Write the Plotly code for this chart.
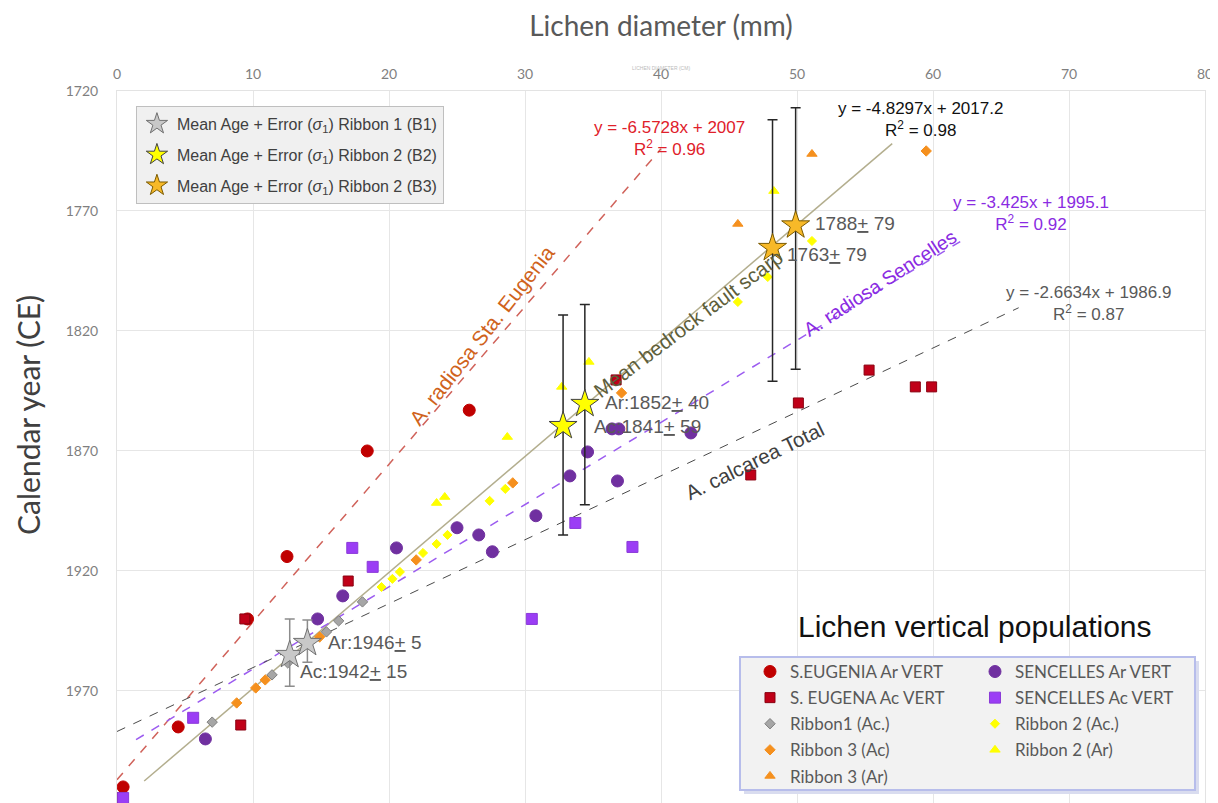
import plotly.graph_objects as go

# ---------------- data ----------------
se_ar_x = [0.45, 4.5, 9.6, 12.5, 18.4, 25.9]
se_ar_y = [2010, 1985, 1940, 1914, 1870, 1853]

sc_ar_x = [6.5, 14.75, 16.6, 20.55, 25.0, 26.6, 27.6, 30.8, 33.3, 34.6, 36.4, 36.9, 36.8, 42.2]
sc_ar_y = [1990, 1940, 1930.4, 1910.4, 1902, 1905, 1912, 1897, 1880.4, 1870.4, 1860.8, 1860.8, 1882.5, 1862.5]

se_ac_x = [0.0, 9.1, 9.4, 17.0, 36.7, 46.6, 50.1, 55.3, 58.7, 59.9]
se_ac_y = [2014.5, 1984.2, 1940, 1924.2, 1840.4, 1880, 1850, 1836.3, 1843.3, 1843.3]

sc_ac_x = [0.45, 5.6, 17.3, 18.8, 30.5, 33.7, 37.9]
sc_ac_y = [2014.6, 1981.2, 1910.4, 1918.3, 1940, 1900, 1910]

r1_ac_x = [7.0, 11.4, 12.55, 15.4, 16.3, 18.05]
r1_ac_y = [1983, 1963.3, 1958.3, 1945.4, 1940.8, 1932.9]

r2_ac_x = [19.45, 20.25, 20.8, 22.5, 23.5, 24.3, 27.4, 28.55, 45.65, 47.85, 51.1]
r2_ac_y = [1926.7, 1923.3, 1920.4, 1912.5, 1908.75, 1905, 1890.8, 1885.8, 1807.9, 1797.5, 1782.5]

r3_ac_x = [8.8, 10.2, 10.9, 14.9, 22.0, 29.1, 37.1, 59.5]
r3_ac_y = [1975, 1968.75, 1965.4, 1947.5, 1915.4, 1883.3, 1845.8, 1745]

r2_ar_x = [23.5, 24.1, 28.7, 32.7, 34.7, 48.3]
r2_ar_y = [1891.7, 1889.2, 1864.2, 1843.3, 1832.9, 1761.7]

r3_ar_x = [45.65, 51.1]
r3_ar_y = [1775.4, 1746.25]

# mean ages with errors (stars)
b1_x = [12.7, 14.0]; b1_y = [1955, 1950]; b1_plus = [13, 8]; b1_minus = [15, 9.6]
b2_x = [32.8, 34.4]; b2_y = [1859.6, 1850.4]; b2_plus = [45.4, 42]; b2_minus = [46.3, 41.4]
b3_x = [48.2, 49.9]; b3_y = [1785.4, 1776]; b3_plus = [55.6, 60]; b3_minus = [53.4, 49]

# trend lines: slope, intercept, x-extent
trend_slope = [-6.5728, -4.8297, -3.425, -2.6634]
trend_icpt = [2007, 2017.2, 1995.1, 1986.9]
trend_x0 = [0, 2.0, 1.4, 0]
trend_x1 = [40, 57, 62.3, 66.3]
trend_r2 = [0.96, 0.98, 0.92, 0.87]

x_ticks = [0, 10, 20, 30, 40, 50, 60, 70, 80]
y_ticks = [1720, 1770, 1820, 1870, 1920, 1970]

# ---------------- figure ----------------
fig = go.Figure()

line_styles = [
    dict(color="#D0625A", width=1.5, dash="dash"),
    dict(color="#B3AE8E", width=1.5),
    dict(color="#9C5CF0", width=1.5, dash="dash"),
    dict(color="#4A4A4A", width=1, dash="dash"),
]
for s, b, a, z, ls in zip(trend_slope, trend_icpt, trend_x0, trend_x1, line_styles):
    fig.add_trace(go.Scatter(x=[a, z], y=[s * a + b, s * z + b], mode="lines",
                             line=ls, showlegend=False, hoverinfo="skip"))

pts = [
    ("S.EUGENIA Ar VERT", se_ar_x, se_ar_y, "circle", 12, "#C00000", "#C00000", "legend2"),
    ("S. EUGENA Ac VERT", se_ac_x, se_ac_y, "square", 10, "#C00018", "#8A0010", "legend2"),
    ("Ribbon1 (Ac.)", r1_ac_x, r1_ac_y, "diamond", 8, "#A6A6A6", "#7F7F7F", "legend2"),
    ("Ribbon 3 (Ac)", r3_ac_x, r3_ac_y, "diamond", 8, "#F5901E", "#F5901E", "legend2"),
    ("Ribbon 3 (Ar)", r3_ar_x, r3_ar_y, "triangle-up", 9, "#F5901E", "#F5901E", "legend2"),
    ("SENCELLES Ar VERT", sc_ar_x, sc_ar_y, "circle", 12, "#7030A0", "#7030A0", "legend3"),
    ("SENCELLES Ac VERT", sc_ac_x, sc_ac_y, "square", 11, "#9B3DF5", "#8A3AD8", "legend3"),
    ("Ribbon 2 (Ac.)", r2_ac_x, r2_ac_y, "diamond", 7, "#FFFF00", "#FFFF00", "legend3"),
    ("Ribbon 2 (Ar)", r2_ar_x, r2_ar_y, "triangle-up", 9, "#FFFF00", "#FFFF00", "legend3"),
]
for i, (name, xs, ys, sym, sz, col, lc, lg) in enumerate(pts):
    fig.add_trace(go.Scatter(x=xs, y=ys, mode="markers", name=name, legend=lg,
                             legendgroup=f"p{i}",
                             marker=dict(symbol=sym, size=sz, color=col,
                                         line=dict(color=lc, width=1))))

sig = "Mean Age + Error (<i>σ</i><sub>1</sub>) "
stars = [
    (sig + "Ribbon 1 (B1)", b1_x, b1_y, b1_plus, b1_minus, "#C8C8C8", "#707070", "#8C8C8C", "g1"),
    (sig + "Ribbon 2 (B2)", b2_x, b2_y, b2_plus, b2_minus, "#FFFF00", "#404040", "#262626", "g2"),
    (sig + "Ribbon 2 (B3)", b3_x, b3_y, b3_plus, b3_minus, "#F7B928", "#7A5A00", "#262626", "g3"),
]
for name, xs, ys, p, m, fc, lc, ec, grp in stars:
    fig.add_trace(go.Scatter(x=xs, y=ys, mode="markers", name=name, legend="legend",
                             legendgroup=grp,
                             marker=dict(symbol="star", size=21, color=fc,
                                         line=dict(color=lc, width=1)),
                             error_y=dict(type="data", symmetric=False, array=p, arrayminus=m,
                                          color=ec, thickness=1.5, width=5)))

ARIAL = "Liberation Sans"

def eq_text(s, b, r2):
    return f"y = {s}x + {b}<br>R<sup>2</sup> = {r2}"

eq_pos = [(40.6, 1739.6, "#E0202A"), (59.1, 1731.7, "#111111"),
          (67.2, 1771.2, "#8A2BE2"), (71.4, 1808.7, "#595959")]
for s, b, r2, (ex, ey, ec) in zip(trend_slope, trend_icpt, trend_r2, eq_pos):
    fig.add_annotation(x=ex, y=ey, text=eq_text(s, b, r2), showarrow=False,
                       font=dict(family=ARIAL, size=17, color=ec), align="center")

# rotated labels along lines
rot = [
    ("A. radiosa Sta. Eugenia", 26.8, 1821.7, -52, "#D0631C", 21),
    ("Mean bedrock fault scarp", 42.0, 1816.9, -37, "#5E5E3A", 20.5),
    ("A. radiosa Sencelles", 56.1, 1800.0, -33, "#8A2BE2", 19.5),
    ("A. calcarea Total", 46.9, 1874.0, -26, "#404040", 20.5),
]
for t, ax, ay, ang, c, fs in rot:
    fig.add_annotation(x=ax, y=ay, text=t, textangle=ang, showarrow=False,
                       font=dict(family=ARIAL, size=fs, color=c))

# star value labels
lab = [
    ("1788<u>+</u> 79", 51.2, 1775.4),
    ("1763<u>+</u> 79", 49.1, 1788.3),
    ("Ar:1852<u>+</u> 40", 35.7, 1849.6),
    ("Ac:1841<u>+</u> 59", 34.9, 1860.0),
    ("Ar:1946<u>+</u> 5", 15.4, 1950.0),
    ("Ac:1942<u>+</u> 15", 13.3, 1962.0),
]
for t, ax, ay in lab:
    fig.add_annotation(x=ax, y=ay, text=t, showarrow=False, xanchor="left",
                       font=dict(family=ARIAL, size=19, color="#595959"))

# legend 2 title
fig.add_annotation(xref="paper", yref="paper", x=0.7886, y=0.2472, xanchor="center", yanchor="middle",
                   text="Lichen vertical populations",
                   showarrow=False, font=dict(family=ARIAL, size=30, color="#111111"))

# y axis title
fig.add_annotation(xref="paper", yref="paper", x=-0.0818, y=0.545, xanchor="center", yanchor="middle",
                   text="Calendar year (CE)", textangle=-90, showarrow=False,
                   font=dict(family="Lato", size=30, color="#404040"))

# tiny faint text at top
fig.add_annotation(xref="paper", yref="paper", x=0.5, y=1.039, text="LICHEN DIAMETER (CM)",
                   showarrow=False, font=dict(family=ARIAL, size=5, color="#BBBBBB"))

# box behind the population legends (shadow + box)
fig.add_shape(type="rect", xref="paper", yref="paper", x0=0.5763, x1=0.9945, y0=0.0127, y1=0.1995,
              fillcolor="#D9DCEF", line=dict(width=0), layer="above")
fig.add_shape(type="rect", xref="paper", yref="paper", x0=0.5726, x1=0.9908, y0=0.0183, y1=0.2051,
              fillcolor="#F2F2F2", line=dict(color="#B7BDEB", width=2), layer="above")

# the page body adds an 8px margin, so the figure is sized to fill the window from (8, 8)
fig.update_layout(
    width=1210, height=795,
    margin=dict(l=109, r=13, t=83, b=0),
    plot_bgcolor="white", paper_bgcolor="white",
    xaxis=dict(side="top", range=[0, 80], tickvals=x_ticks, showgrid=True, gridcolor="#E6E6E6",
               zeroline=False, showline=True, linecolor="#E3E3E3", mirror=True, automargin=False,
               tickfont=dict(family="Lato", size=14, color="#7F7F7F"), ticklabelstandoff=5,
               title=dict(text="Lichen diameter (mm)", font=dict(family="Lato", size=28, color="#595959"),
                          standoff=24)),
    yaxis=dict(range=[2016.7, 1720], tickvals=y_ticks, showgrid=True, gridcolor="#E6E6E6",
               zeroline=False, showline=True, linecolor="#E3E3E3", mirror=True, automargin=False,
               tickfont=dict(family="Lato", size=14, color="#7F7F7F"), ticklabelstandoff=15),
    legend=dict(x=0.0174, y=0.979, xanchor="left", yanchor="top", bgcolor="#F0F0F0",
                bordercolor="#BFBFBF", borderwidth=1, tracegroupgap=7,
                font=dict(family=ARIAL, size=16, color="#404040")),
    legend2=dict(x=0.5818, y=0.2093, xanchor="left", yanchor="top", bgcolor="rgba(0,0,0,0)",
                 borderwidth=0, tracegroupgap=1,
                 font=dict(family="Lato", size=17, color="#595959")),
    legend3=dict(x=0.7886, y=0.2093, xanchor="left", yanchor="top", bgcolor="rgba(0,0,0,0)",
                 borderwidth=0, tracegroupgap=1,
                 font=dict(family="Lato", size=17, color="#595959")),
)

fig.write_html("out.html")
